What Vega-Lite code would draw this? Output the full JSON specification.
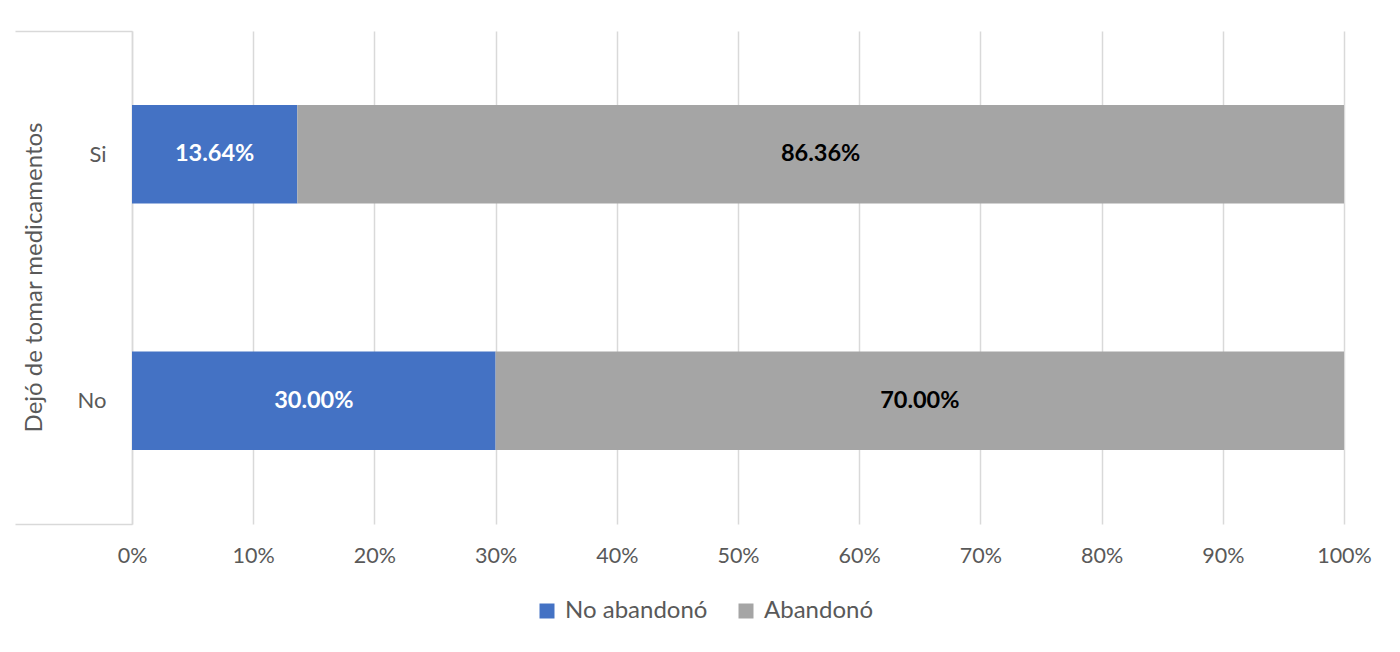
{
  "$schema": "https://vega.github.io/schema/vega-lite/v6.json",
  "width": 1212,
  "height": 493,
  "padding": {"left": 14, "top": 20, "right": 20, "bottom": 10},
  "background": "white",
  "config": {
    "font": "Lato",
    "view": {"stroke": null},
    "axis": {"labelColor": "#595959", "titleColor": "#595959", "labelFont": "Lato", "titleFont": "Lato"}
  },
  "data": {
    "values": [
      {"cat": "Si", "serie": "No abandonó", "ord": 1, "value": 0.1364},
      {"cat": "Si", "serie": "Abandonó", "ord": 2, "value": 0.8636},
      {"cat": "No", "serie": "No abandonó", "ord": 1, "value": 0.30},
      {"cat": "No", "serie": "Abandonó", "ord": 2, "value": 0.70}
    ]
  },
  "transform": [
    {"stack": "value", "groupby": ["cat"], "sort": [{"field": "ord"}], "as": ["v0", "v1"]},
    {"calculate": "(datum.v0 + datum.v1) / 2", "as": "mid"}
  ],
  "encoding": {
    "y": {
      "field": "cat",
      "type": "nominal",
      "sort": ["Si", "No"],
      "scale": {"paddingInner": 0, "paddingOuter": 0},
      "axis": {
        "title": "Dejó de tomar medicamentos",
        "titleFontSize": 24,
        "titleFontWeight": "normal",
        "titleX": -98,
        "titleY": 246,
        "titleAngle": -90,
        "titleAlign": "center",
        "titleBaseline": "middle",
        "labelFontSize": 22,
        "labelAngle": 0,
        "domain": true,
        "domainColor": "#D9D9D9",
        "domainWidth": 1.5,
        "ticks": true,
        "tickBand": "extent",
        "tickSize": 117,
        "tickColor": "#D9D9D9",
        "tickWidth": 1.5,
        "tickOpacity": {"condition": {"test": "datum.value === 'Si'", "value": 0}, "value": 1},
        "labelPadding": -91,
        "grid": false
      }
    }
  },
  "layer": [
    {
      "mark": {"type": "bar", "height": {"band": 0.4}},
      "encoding": {
        "x": {
          "field": "v0",
          "type": "quantitative",
          "scale": {"domain": [0, 1], "nice": false},
          "axis": {
            "title": null,
            "format": ".0%",
            "values": [0, 0.1, 0.2, 0.3, 0.4, 0.5, 0.6, 0.7, 0.8, 0.9, 1],
            "domain": false,
            "ticks": false,
            "grid": true,
            "gridColor": "#D9D9D9",
            "gridWidth": 1.5,
            "labelFontSize": 21.5,
            "labelPadding": 21,
            "labelFlush": false
          }
        },
        "x2": {"field": "v1"},
        "color": {
          "field": "serie",
          "type": "nominal",
          "scale": {"domain": ["No abandonó", "Abandonó"], "range": ["#4472C4", "#A5A5A5"]},
          "legend": {
            "title": null,
            "orient": "none",
            "legendX": 403,
            "legendY": 568,
            "direction": "horizontal",
            "symbolType": "square",
            "symbolSize": 225,
            "symbolStrokeWidth": 0,
            "symbolOffset": 0,
            "labelFontSize": 24,
            "labelOffset": 6,
            "labelColor": "#595959",
            "columnPadding": 26
          }
        }
      }
    },
    {
      "mark": {"type": "text", "fontSize": 23.5, "fontWeight": "bold", "align": "center", "baseline": "middle"},
      "encoding": {
        "x": {"field": "mid", "type": "quantitative"},
        "text": {"field": "value", "type": "quantitative", "format": ".2%"},
        "color": {"condition": {"test": "datum.serie === 'No abandonó'", "value": "white"}, "value": "black"}
      }
    }
  ]
}
